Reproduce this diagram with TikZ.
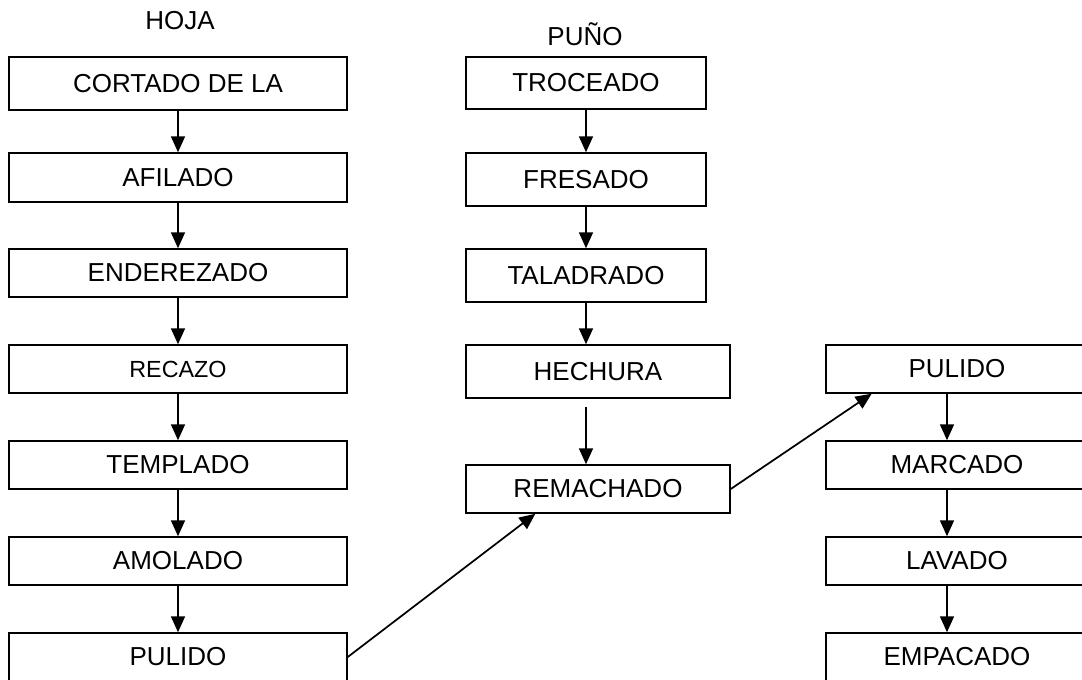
\documentclass[tikz,border=0pt]{standalone}
\usepackage{fontspec}
\setmainfont{Liberation Sans}
\usetikzlibrary{arrows.meta, positioning}

\begin{document}
\begin{tikzpicture}[x=0.75pt, y=-0.75pt,
    paso/.style={draw, line width=1.1pt, inner sep=0pt,
                 minimum width=#1, font=\fontsize{19.5}{23}\selectfont},
    paso/.default=253.5pt,
    flecha/.style={-{Triangle[length=12pt, width=10.5pt]}, line width=1.3pt}]
  \path[use as bounding box, clip] (0,0) rectangle (1082,679);

  % Hoja
  \node[font=\fontsize{19.5}{23}\selectfont] (hoja) at (180,21) {HOJA};
  \node[paso, minimum height=39.75pt] (corte) at (178,83.5) {CORTADO DE LA};
  \node[paso, minimum height=36.75pt] (afilado) at (178,177.5) {AFILADO};
  \node[paso, minimum height=36pt] (endere) at (178,273) {ENDEREZADO};
  \node[paso, minimum height=36pt, font=\fontsize{17.5}{21}\selectfont] (recazo) at (178,369) {RECAZO};
  \node[paso, minimum height=36pt] (templado) at (178,465) {TEMPLADO};
  \node[paso, minimum height=36pt] (amolado) at (178,561) {AMOLADO};
  \node[paso, minimum height=36pt] (pulidoH) at (178,657) {PULIDO};
  \draw[flecha] (corte) -- (afilado);
  \draw[flecha] (afilado) -- (endere);
  \draw[flecha] (endere) -- (recazo);
  \draw[flecha] (recazo) -- (templado);
  \draw[flecha] (templado) -- (amolado);
  \draw[flecha] (amolado) -- (pulidoH);

  % Puño
  \node[font=\fontsize{19.5}{23}\selectfont] (puno) at (585,34) {PUÑO};
  \node[paso=180pt, minimum height=39pt] (troceado) at (586,83) {TROCEADO};
  \node[paso=180pt, minimum height=39.75pt] (fresado) at (586,179.5) {FRESADO};
  \node[paso=180pt, minimum height=39.75pt] (taladrado) at (586,275.5) {TALADRADO};
  \node[paso=198pt, minimum height=39.75pt] (hechura) at (598,371.5) {HECHURA};
  \node[paso=198pt, minimum height=36pt] (remachado) at (598,489) {REMACHADO};
  \draw[flecha] (troceado) -- (fresado);
  \draw[flecha] (fresado) -- (taladrado);
  \draw[flecha] (taladrado.south) -- (taladrado.south |- hechura.north);
  \draw[flecha] ([xshift=-9pt, yshift=-6pt]hechura.south) -- ([xshift=-9pt]remachado.north);

  % Empaque
  \node[paso=196.5pt, minimum height=36pt] (pulidoE) at (957,369) {PULIDO};
  \node[paso=196.5pt, minimum height=36pt] (marcado) at (957,465) {MARCADO};
  \node[paso=196.5pt, minimum height=36pt] (lavado) at (957,561) {LAVADO};
  \node[paso=196.5pt, minimum height=36pt] (empacado) at (957,657) {EMPACADO};
  \draw[flecha] ([xshift=-7.5pt]pulidoE.south) -- ([xshift=-7.5pt]marcado.north);
  \draw[flecha] ([xshift=-7.5pt]marcado.south) -- ([xshift=-7.5pt]lavado.north);
  \draw[flecha] ([xshift=-7.5pt]lavado.south) -- ([xshift=-7.5pt]empacado.north);

  % Uniones
  \draw[flecha] (pulidoH.east) -- ([xshift=-47pt]remachado.south);
  \draw[flecha] (remachado.east) -- ([xshift=-64pt]pulidoE.south);
\end{tikzpicture}
\end{document}
